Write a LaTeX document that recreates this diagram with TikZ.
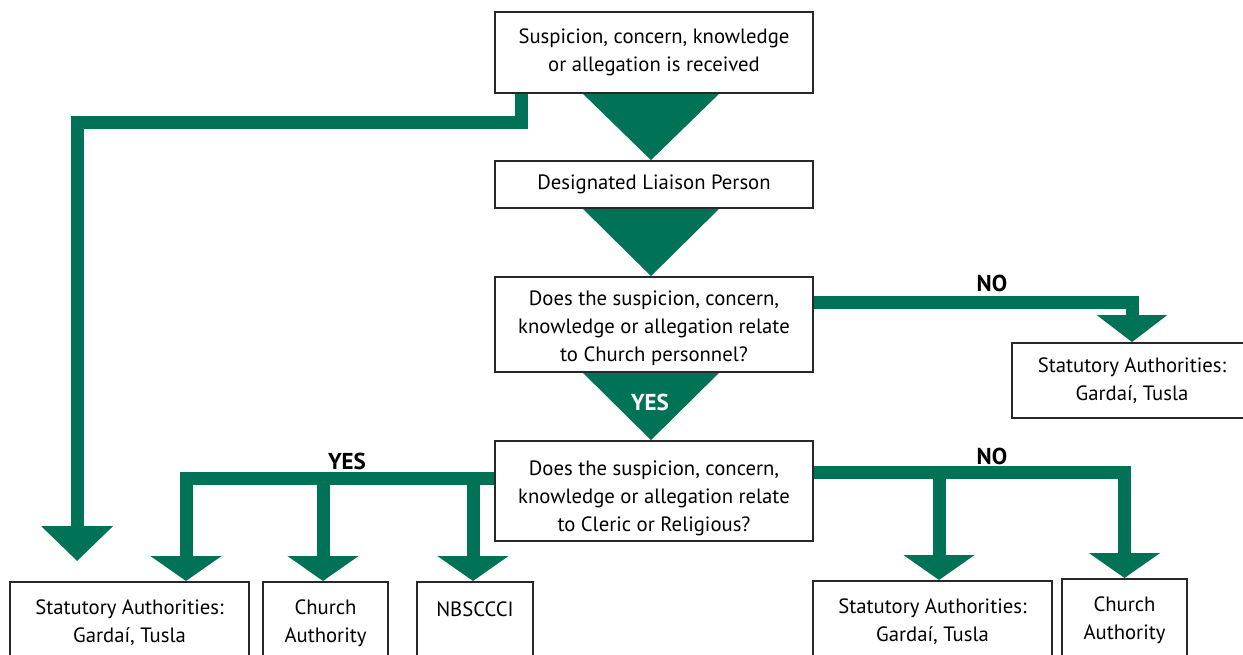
\documentclass[tikz,border=0pt]{standalone}
\usepackage{fontspec}
\setmainfont{PT Sans}
\usetikzlibrary{arrows.meta,calc}
\definecolor{cgreen}{RGB}{0,115,87}
\definecolor{cbord}{RGB}{40,40,40}
\pgfdeclarelayer{bg}
\pgfsetlayers{bg,main}
\begin{document}
\begin{tikzpicture}[x=1pt,y=-1pt,
  box/.style={draw=cbord,line width=1.8pt,fill=white,align=center,inner sep=0pt,
    font=\fontsize{20.7}{28}\selectfont},
  gline/.style={draw=cgreen,line width=13pt,line join=miter},
  gtip/.style={-{Triangle[width=70pt,length=25pt]}},
  gtipb/.style={-{Triangle[width=69pt,length=27pt]}},
  gtipc/.style={-{Triangle[width=70pt,length=35pt]}},
  lbl/.style={font=\fontsize{23}{25}\selectfont\bfseries,text=black,inner sep=0pt}
]
\useasboundingbox (0,0) rectangle (1243,655);
% boxes
\node[box,minimum width=318pt,minimum height=81pt] (b1) at (654,52.5)
  {Suspicion, concern, knowledge\\or allegation is received};
\node[box,minimum width=318pt,minimum height=47pt] (b2) at (654,184.5)
  {Designated Liaison Person};
\node[box,minimum width=318pt,minimum height=95pt] (b3) at (654,324.5)
  {\rule{0pt}{23pt}Does the suspicion, concern,\\knowledge or allegation relate\\to Church personnel?};
\node[box,minimum width=318pt,minimum height=100pt] (b4) at (654,491)
  {\rule{0pt}{29pt}Does the suspicion, concern,\\knowledge or allegation relate\\to Cleric or Religious?};
\node[box,minimum width=240pt,minimum height=75pt] (sa1) at (1132,380.5)
  {Statutory Authorities:\\Gardaí, Tusla};
\node[box,minimum width=239pt,minimum height=82pt,anchor=north] (sa2) at (129.5,581)
  {Statutory Authorities:\\Gardaí, Tusla};
\node[box,minimum width=125pt,minimum height=82pt,anchor=north] (ca1) at (325.5,581)
  {Church\\Authority};
\node[box,minimum width=116pt,minimum height=82pt,anchor=north] (nb) at (475,581)
  {NBSCCCI\\\mbox{}};
\node[box,minimum width=239pt,minimum height=82pt,anchor=north] (sa3) at (932.5,580)
  {Statutory Authorities:\\Gardaí, Tusla};
\node[box,minimum width=125pt,minimum height=82pt,anchor=north] (ca2) at (1124.5,578)
  {Church\\Authority};
% connectors
\begin{pgfonlayer}{bg}
\fill[cgreen] ($(b1.south)+(-71,0)$) -- ($(b2.north)+(-3,0)$) -- ($(b1.south)+(65,0)$) -- cycle;
\fill[cgreen] ($(b2.south)+(-71,0)$) -- ($(b3.north)+(-3,0)$) -- ($(b2.south)+(65,0)$) -- cycle;
\fill[cgreen] ($(b3.south)+(-71,0)$) -- ($(b4.north)+(-3,0)$) -- ($(b3.south)+(65,0)$) -- cycle;
\coordinate (lend) at ($(sa2.north west)+(68,-20)$);
\draw[gline,gtipc] ($(b1.south west)+(27.5,0)$) -- ++(0,28.5) -| (lend);
\coordinate (ybar) at ($(b4.west)+(0,-12.5)$);
\coordinate (ca1t) at ($(ca1.north)+(-2.5,0)$);
\coordinate (nbt) at ($(nb.north)+(-2,0)$);
\draw[gline,gtip] (ybar) -| ($(sa2.north)+(56.5,0)$);
\draw[gline,gtip] (ybar -| ca1t) -- (ca1t);
\draw[gline,gtip] (ybar -| nbt) -- (nbt);
\draw[gline,gtipb] ($(b3.east)+(0,-22)$) -| (sa1.north);
\coordinate (nbar) at ($(b4.east)+(0,-18.5)$);
\coordinate (sa3t) at ($(sa3.north)+(6.5,0)$);
\draw[gline,gtip] (nbar) -| (ca2.north);
\draw[gline,gtip] (nbar -| sa3t) -- (sa3t);
\end{pgfonlayer}
% labels
\node[lbl,text=white] (yes1) at (650,402) {YES};
\node[lbl] (no1) at (992,283) {NO};
\node[lbl] (yes2) at (347,461) {YES};
\node[lbl] (no2) at (992,456) {NO};
\end{tikzpicture}
\end{document}
